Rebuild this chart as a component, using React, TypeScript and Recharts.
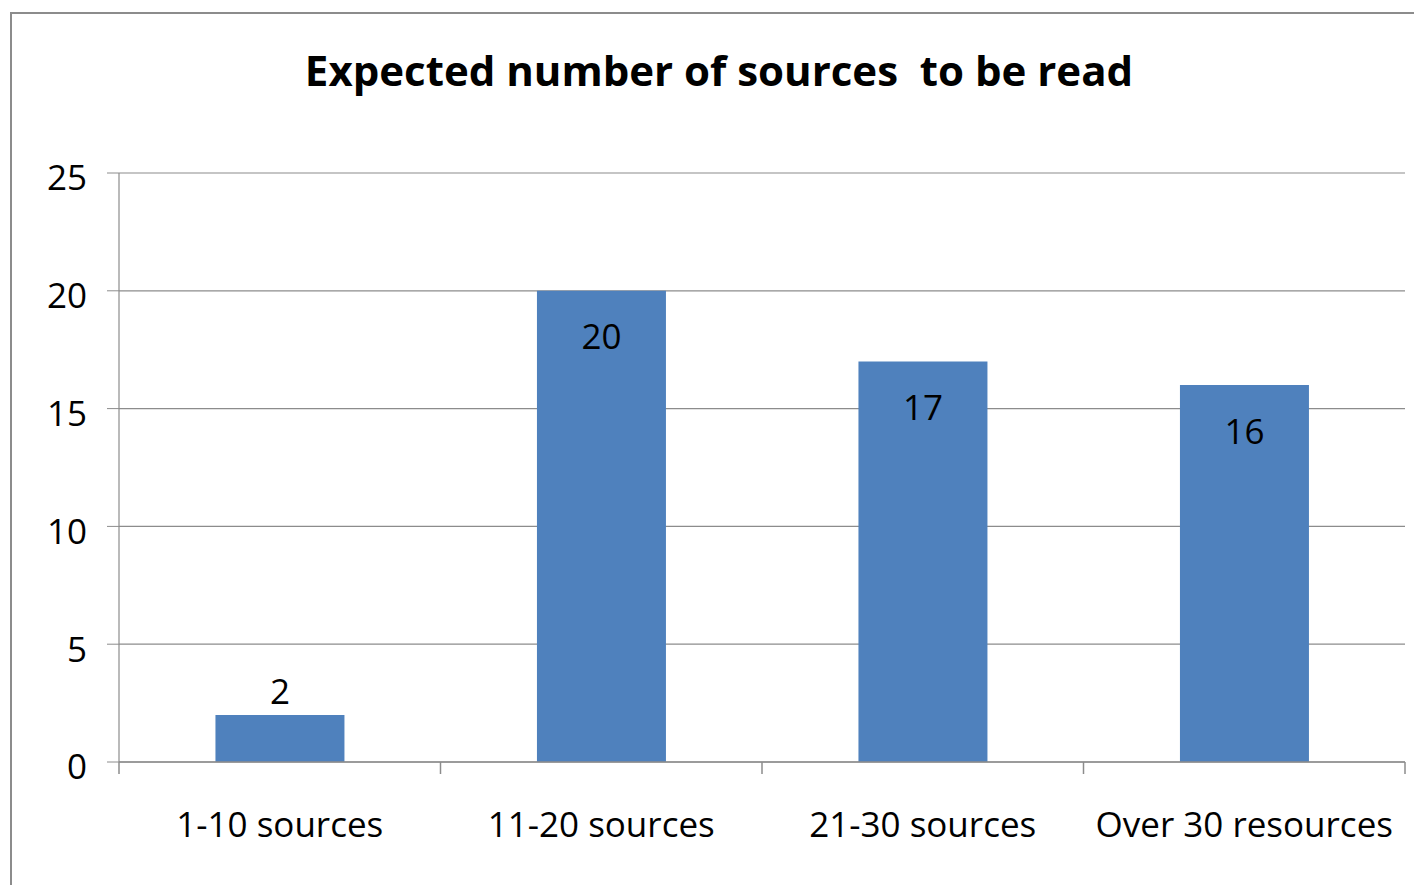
import { Bar, BarChart, CartesianGrid, LabelList, XAxis, YAxis } from 'recharts';

const categories = ['1-10 sources', '11-20 sources', '21-30 sources', 'Over 30 resources'];
const counts = [2, 20, 17, 16];
const yTicks = [0, 5, 10, 15, 20, 25];

const BAR_COLOR = '#4F81BD';
const LINE_COLOR = '#8C8C8C';
const FONT = '"Open Sans", "Noto Sans", sans-serif';
const X_TICK_SIZE = 12;
const X_TICK_MARGIN = 38;

const data = categories.map((name, i) => ({ name, count: counts[i] }));

interface ValueLabelProps {
  x?: number | string;
  y?: number | string;
  width?: number | string;
  value?: number | string;
}

// Large bars carry their value inside the top edge, short bars get it above
const ValueLabel = ({ x, y, width, value }: ValueLabelProps) => {
  const cx = Number(x) + Number(width) / 2;
  const v = Number(value);
  const cy = v < 5 ? Number(y) - 24 : Number(y) + 45;
  return (
    <text x={cx} y={cy} textAnchor="middle" dominantBaseline="central" fill="#000" fontSize={35} fontFamily={FONT}>
      {value}
    </text>
  );
};

interface CategoryTickProps {
  x?: number;
  y?: number;
  index?: number;
  visibleTicksCount?: number;
  payload?: { value?: string; offset?: number };
}

// Tick marks sit on the category boundaries (Excel style), label stays centred
const CategoryTick = ({ x = 0, y = 0, index = 0, visibleTicksCount = 0, payload }: CategoryTickProps) => {
  const half = payload?.offset ?? 0;
  const axisY = y - X_TICK_SIZE - X_TICK_MARGIN;
  const isLast = index === visibleTicksCount - 1;
  return (
    <g>
      <line x1={x - half} x2={x - half} y1={axisY} y2={axisY + X_TICK_SIZE} stroke={LINE_COLOR} strokeWidth={1.5} />
      {isLast && (
        <line x1={x + half} x2={x + half} y1={axisY} y2={axisY + X_TICK_SIZE} stroke={LINE_COLOR} strokeWidth={1.5} />
      )}
      <text x={x} y={y} dy="0.71em" textAnchor="middle" fill="#000" fontSize={35} fontFamily={FONT}>
        {payload?.value}
      </text>
    </g>
  );
};

export default function App() {
  return (
    <div style={{ position: 'fixed', left: 0, top: 0, width: 1414, height: 885, overflow: 'hidden', background: '#fff' }}>
      <div
        style={{
          position: 'absolute',
          left: 10,
          top: 12,
          width: 1440,
          height: 900,
          border: `2px solid ${LINE_COLOR}`,
          boxSizing: 'border-box',
        }}
      />
      <div
        style={{
          position: 'absolute',
          left: 0,
          top: 43,
          width: 1438,
          textAlign: 'center',
          fontFamily: FONT,
          fontWeight: 700,
          fontSize: 42,
          lineHeight: '54px',
          color: '#000',
        }}
      >
        Expected number of sources&nbsp; to be read
      </div>
      <div style={{ position: 'absolute', left: 0, top: 0 }}>
        <BarChart
          width={1414}
          height={885}
          data={data}
          margin={{ top: 173, right: 9, bottom: 0, left: 0 }}
          barCategoryGap="30%"
        >
          <CartesianGrid vertical={false} stroke={LINE_COLOR} strokeWidth={1.2} />
          <XAxis
            dataKey="name"
            height={123}
            axisLine={{ stroke: LINE_COLOR, strokeWidth: 1.5 }}
            tickLine={false}
            tickSize={X_TICK_SIZE}
            tickMargin={X_TICK_MARGIN}
            tick={<CategoryTick />}
            interval={0}
          />
          <YAxis
            width={119}
            domain={[0, 25]}
            ticks={yTicks}
            stroke={LINE_COLOR}
            tickSize={12}
            tickMargin={20}
            tick={{ fill: '#000', fontSize: 35, fontFamily: FONT, dy: 5 }}
            axisLine={{ stroke: LINE_COLOR, strokeWidth: 1.2 }}
          />
          <Bar dataKey="count" fill={BAR_COLOR} isAnimationActive={false}>
            <LabelList dataKey="count" content={<ValueLabel />} />
          </Bar>
        </BarChart>
      </div>
    </div>
  );
}
